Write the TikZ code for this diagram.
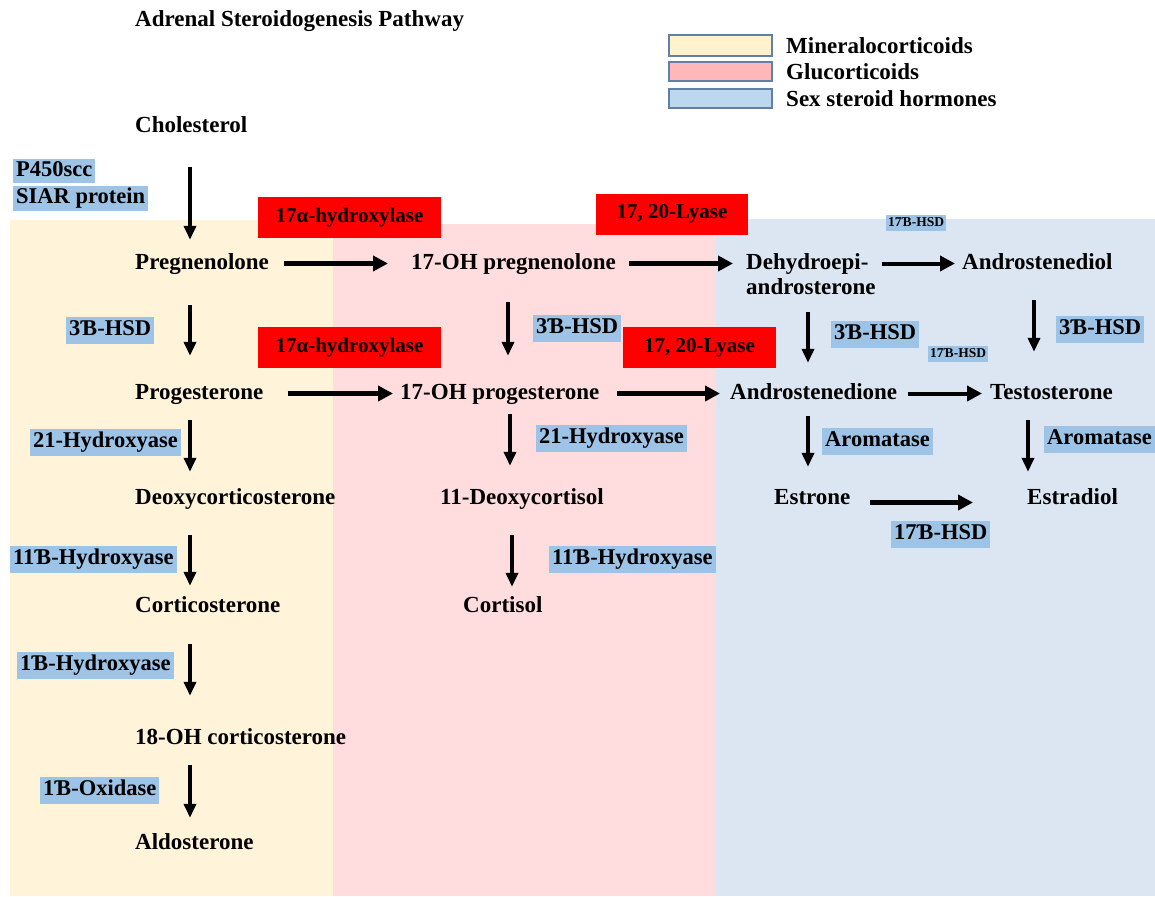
\documentclass[tikz,border=0pt]{standalone}
\usepackage{fontspec}
\setmainfont{Liberation Serif}
\usetikzlibrary{arrows.meta}
\definecolor{bgY}{RGB}{255,243,218}
\definecolor{bgP}{RGB}{255,221,223}
\definecolor{bgB}{RGB}{220,230,242}
\definecolor{lgY}{RGB}{255,242,204}
\definecolor{lgP}{RGB}{255,183,186}
\definecolor{lgB}{RGB}{189,215,238}
\definecolor{lgBorder}{RGB}{96,128,166}
\definecolor{hl}{RGB}{157,195,230}
\newcommand{\mainf}{\fontsize{23}{27}\selectfont\bfseries}
\newcommand{\enzf}{\fontsize{22.5}{27}\selectfont\bfseries}
\newcommand{\redf}{\fontsize{21}{25}\selectfont\bfseries}
\newcommand{\smallf}{\fontsize{13.5}{16}\selectfont\bfseries}
\begin{document}
\begin{tikzpicture}[x=1pt,y=-1pt,
  txt/.style={inner sep=0pt, anchor=base west, font=\mainf, text height=16pt, text depth=5pt},
  enz/.style={fill=hl, inner xsep=3pt, inner ysep=3pt, text height=16pt, text depth=5pt, anchor=west, font=\enzf},
  smallenz/.style={fill=hl, inner xsep=2pt, inner ysep=1.5pt, text height=10pt, text depth=3pt, anchor=west, font=\smallf},
  redbox/.style={fill=red, font=\redf, inner sep=0pt, minimum height=41pt},
  legbox/.style={draw=lgBorder, line width=1.5pt, minimum width=103pt, inner sep=0pt},
  varr/.style={line width=4pt, -{Triangle[length=14pt,width=12pt]}},
  harr/.style={line width=5pt, -{Triangle[length=15pt,width=15pt]}}]
\useasboundingbox (0,0) rectangle (1155,896);
% backgrounds
\fill[bgY] (10,220) rectangle (333,896);
\fill[bgP] (333,224) rectangle (716,896);
\fill[bgB] (716,219) rectangle (1155,896);
% title
\node[txt] (title) at (135,27) {Adrenal Steroidogenesis Pathway};
% legend
\node[legbox, fill=lgY, minimum height=21pt] (lg1) at (720.5,45.5) {};
\node[legbox, fill=lgP, minimum height=19pt] (lg2) at (720.5,71.5) {};
\node[legbox, fill=lgB, minimum height=19pt] (lg3) at (720.5,98.5) {};
\node[txt] (lt1) at (786,54) {Mineralocorticoids};
\node[txt] (lt2) at (786,80) {Glucorticoids};
\node[txt] (lt3) at (786,107) {Sex steroid hormones};
% red enzyme boxes
\node[redbox, minimum width=183pt] (hyd1) at (349.5,217) {17α-hydroxylase};
\node[redbox, minimum width=183pt] (hyd2) at (349.5,347.5) {17α-hydroxylase};
\node[redbox, minimum width=152pt] (lya1) at (672,214) {17, 20-Lyase};
\node[redbox, minimum width=153pt] (lya2) at (699.5,347.5) {17, 20-Lyase};
% blue enzyme labels
\node[enz, inner ysep=1pt] (p450) at (13,171) {P450scc};
\node[enz, inner ysep=2pt] (siar) at (13,198) {SIAR protein};
\node[enz] (hsdA) at (66,330) {3Ɓ-HSD};
\node[enz] (hsdB) at (533,328) {3Ɓ-HSD};
\node[enz] (hsdC) at (831,334) {3Ɓ-HSD};
\node[enz] (hsdD) at (1056,329) {3Ɓ-HSD};
\node[enz] (h21A) at (30,442) {21-Hydroxyase};
\node[enz] (h21B) at (536,438) {21-Hydroxyase};
\node[enz] (aroA) at (822,441) {Aromatase};
\node[enz] (aroB) at (1044,439) {Aromatase};
\node[enz] (hsd17) at (891,534) {17Ɓ-HSD};
\node[enz] (h11A) at (10,559) {11Ɓ-Hydroxyase};
\node[enz] (h11B) at (549,559) {11Ɓ-Hydroxyase};
\node[enz] (h1) at (17,665) {1Ɓ-Hydroxyase};
\node[enz] (ox1) at (40,790) {1Ɓ-Oxidase};
\node[smallenz] (s17A) at (886,223) {17Ɓ-HSD};
\node[smallenz] (s17B) at (928,354) {17Ɓ-HSD};
% compounds
\node[txt] (chol) at (135,133) {Cholesterol};
\node[txt] (preg) at (135,269) {Pregnenolone};
\node[txt] (ohpreg) at (411,269) {17-OH pregnenolone};
\node[txt] (dhea1) at (746,269) {Dehydroepi-};
\node[txt] (dhea2) at (746,294) {androsterone};
\node[txt] (adiol) at (962,269) {Androstenediol};
\node[txt] (prog) at (135,399) {Progesterone};
\node[txt] (ohprog) at (400,399) {17-OH progesterone};
\node[txt] (adione) at (730,399) {Androstenedione};
\node[txt] (testo) at (990,399) {Testosterone};
\node[txt] (deoxy) at (135,504) {Deoxycorticosterone};
\node[txt] (deoxyc) at (440,504) {11-Deoxycortisol};
\node[txt] (estrone) at (774,504) {Estrone};
\node[txt] (estradiol) at (1027,504) {Estradiol};
\node[txt] (cortico) at (135,612) {Corticosterone};
\node[txt] (cortisol) at (463,612) {Cortisol};
\node[txt] (oh18) at (135,744) {18-OH corticosterone};
\node[txt] (aldo) at (135,849) {Aldosterone};
% vertical arrows
\draw[varr, shorten <=29pt, shorten >=13pt] ([xshift=55pt]chol.south west) -- ([xshift=55pt]preg.north west);
\draw[varr, shorten <=31pt, shorten >=27pt] ([xshift=55pt]preg.south west) -- ([xshift=55pt]prog.north west);
\draw[varr, shorten <=28pt, shorten >=27pt] ([xshift=97pt]ohpreg.south west) -- ([xshift=108pt]ohprog.north west);
\draw[varr, shorten <=13pt, shorten >=20pt] ([xshift=62pt]dhea2.south west) -- ([xshift=78pt]adione.north west);
\draw[varr, shorten <=26pt, shorten >=31pt] ([xshift=72pt]adiol.south west) -- ([xshift=44pt]testo.north west);
\draw[varr, shorten <=16pt, shorten >=16pt] ([xshift=55pt]prog.south west) -- ([xshift=55pt]deoxy.north west);
\draw[varr, shorten <=10pt, shorten >=22pt] ([xshift=110pt]ohprog.south west) -- ([xshift=70pt]deoxyc.north west);
\draw[varr, shorten <=12pt, shorten >=21pt] ([xshift=78pt]adione.south west) -- ([xshift=34pt]estrone.north west);
\draw[varr, shorten <=16pt, shorten >=16pt] ([xshift=38pt]testo.south west) -- ([xshift=1pt]estradiol.north west);
\draw[varr, shorten <=26pt, shorten >=10pt] ([xshift=55pt]deoxy.south west) -- ([xshift=55pt]cortico.north west);
\draw[varr, shorten <=26pt, shorten >=9pt] ([xshift=72pt]deoxyc.south west) -- ([xshift=49pt]cortisol.north west);
\draw[varr, shorten <=27pt, shorten >=32pt] ([xshift=55pt]cortico.south west) -- ([xshift=55pt]oh18.north west);
\draw[varr, shorten <=16pt, shorten >=15pt] ([xshift=55pt]oh18.south west) -- ([xshift=55pt]aldo.north west);
% horizontal arrows
\draw[harr, shorten <=15pt, shorten >=23pt] (preg.east) -- (ohpreg.west);
\draw[harr, shorten <=13pt, shorten >=13pt] (ohpreg.east) -- (dhea1.west);
\draw[harr, line width=4pt, shorten <=6pt, shorten >=7pt] (dhea1.east -| dhea2.east) -- (adiol.west);
\draw[harr, shorten <=24pt, shorten >=7pt] (prog.east) -- (ohprog.west);
\draw[harr, shorten <=17pt, shorten >=10pt] (ohprog.east) -- (adione.west);
\draw[harr, line width=4pt, shorten <=11pt, shorten >=8pt] (adione.east) -- (testo.west);
\draw[harr, shorten <=19pt, shorten >=54pt] ([yshift=-4pt]estrone.east) -- ([yshift=-4pt]estradiol.west);
\end{tikzpicture}
\end{document}
